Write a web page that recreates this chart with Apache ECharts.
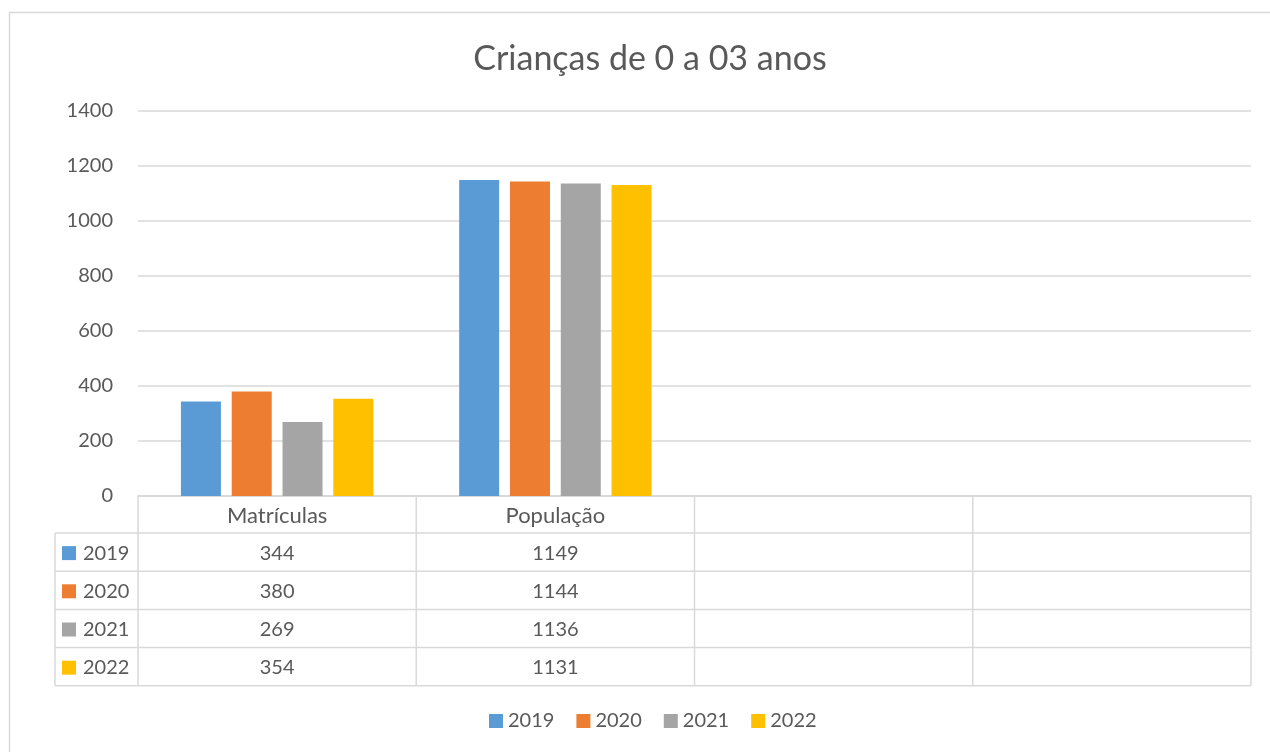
<!DOCTYPE html>
<html style="height: 100%">
<head>
<meta charset="utf-8">
<script src="https://cdn.jsdelivr.net/npm/echarts@6/dist/echarts.min.js"></script>
</head>
<body style="height: 100%; margin: 0">
<div id="container" style="width: 1270px; height: 752px"></div>
<script>
var categories = ['Matrículas', 'População', '', ''];
var years = ['2019', '2020', '2021', '2022'];
var v2019 = [344, 1149, null, null];
var v2020 = [380, 1144, null, null];
var v2021 = [269, 1136, null, null];
var v2022 = [354, 1131, null, null];
var yTicks = [0, 200, 400, 600, 800, 1000, 1200, 1400];
var colors = ['#5b9bd5', '#ed7d31', '#a5a5a5', '#ffc000'];

var seriesValues = [v2019, v2020, v2021, v2022];
var font = 'Lato, "Liberation Sans", sans-serif';
var textColor = '#595959';
var lineColor = '#d9d9d9';

// plot / table layout
var gLeft = 138, gRight = 1251, gTop = 111, gBottom = 496;
var tableLeft = 55;
var headerH = 37;
var rowH = 38.2;

var graphics = [];
// outer frame
graphics.push({
    type: 'rect', shape: {x: 9.5, y: 12.5, width: 1280, height: 760},
    style: {fill: null, stroke: lineColor, lineWidth: 1.5}, silent: true
});

var colW = (gRight - gLeft) / categories.length;
var tableBottom = gBottom + headerH + rowH * years.length;

// horizontal lines of the table
graphics.push({type: 'line', shape: {x1: gLeft, y1: gBottom, x2: gRight, y2: gBottom}, style: {stroke: lineColor, lineWidth: 1.5}});
for (var r = 0; r <= years.length; r++) {
    var yy = gBottom + headerH + r * rowH;
    graphics.push({type: 'line', shape: {x1: tableLeft, y1: yy, x2: gRight, y2: yy}, style: {stroke: lineColor, lineWidth: 1.5}});
}
// vertical lines
graphics.push({type: 'line', shape: {x1: tableLeft, y1: gBottom + headerH, x2: tableLeft, y2: tableBottom}, style: {stroke: lineColor, lineWidth: 1.5}});
for (var c = 0; c <= categories.length; c++) {
    var xx = gLeft + c * colW;
    graphics.push({type: 'line', shape: {x1: xx, y1: gBottom, x2: xx, y2: tableBottom}, style: {stroke: lineColor, lineWidth: 1.5}});
}
// header texts
categories.forEach(function (cat, i) {
    graphics.push({
        type: 'text', x: gLeft + (i + 0.5) * colW, y: gBottom + headerH / 2 + 1,
        style: {text: cat, fill: textColor, font: '22px ' + font, align: 'center', verticalAlign: 'middle'}
    });
});
// rows
years.forEach(function (yr, r) {
    var cy = gBottom + headerH + (r + 0.5) * rowH + 1;
    graphics.push({
        type: 'rect', shape: {x: 62, y: cy - 7, width: 14, height: 14},
        style: {fill: colors[r]}
    });
    graphics.push({
        type: 'text', x: 83, y: cy,
        style: {text: yr, fill: textColor, font: '20px ' + font, align: 'left', verticalAlign: 'middle'}
    });
    seriesValues[r].forEach(function (v, i) {
        if (v == null) return;
        graphics.push({
            type: 'text', x: gLeft + (i + 0.5) * colW, y: cy,
            style: {text: String(v), fill: textColor, font: '20px ' + font, align: 'center', verticalAlign: 'middle'}
        });
    });
});

var dom = document.getElementById('container');
var myChart = echarts.init(dom);

var option = {
    backgroundColor: '#ffffff',
    animation: false,
    color: colors,
    title: {
        text: 'Crianças de 0 a 03 anos',
        left: 645,
        textAlign: 'center',
        top: 37,
        textStyle: {color: textColor, fontFamily: font, fontSize: 34, fontWeight: 'normal'}
    },
    legend: {
        data: years,
        bottom: 16,
        left: 484,
        itemWidth: 14,
        itemHeight: 14,
        itemGap: 22,
        icon: 'rect',
        textStyle: {color: textColor, fontFamily: font, fontSize: 20}
    },
    grid: {left: gLeft, top: gTop, right: 1270 - gRight, bottom: 752 - gBottom},
    xAxis: {
        type: 'category',
        data: categories,
        axisLine: {lineStyle: {color: lineColor, width: 1.5}},
        axisTick: {show: false},
        axisLabel: {show: false}
    },
    yAxis: {
        type: 'value',
        min: yTicks[0],
        max: yTicks[yTicks.length - 1],
        interval: yTicks[1] - yTicks[0],
        axisLine: {show: false},
        axisTick: {show: false},
        splitLine: {lineStyle: {color: lineColor, width: 1.5}},
        axisLabel: {
            color: textColor, fontFamily: font, fontSize: 20, margin: 25,
            formatter: function (v) { return String(v); }
        }
    },
    series: years.map(function (yr, i) {
        return {
            name: yr,
            type: 'bar',
            data: seriesValues[i],
            barWidth: 40,
            barGap: '27%'
        };
    }),
    graphic: graphics
};

myChart.setOption(option);
</script>
</body>
</html>
